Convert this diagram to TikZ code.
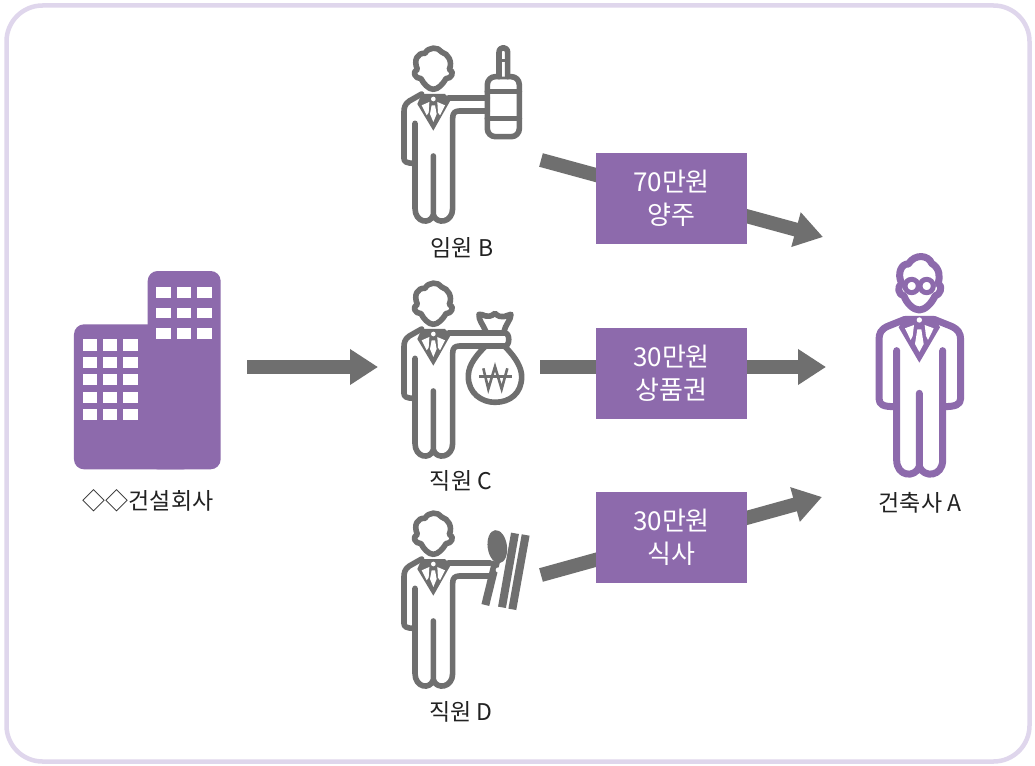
\documentclass[tikz,border=0pt]{standalone}
\usepackage{fontspec}
\setmainfont{Noto Sans CJK KR}
\usetikzlibrary{arrows.meta}
\definecolor{purp}{HTML}{8D6AAC}
\definecolor{gr}{HTML}{6F6F6F}
\definecolor{fr}{HTML}{DFD6EC}
\definecolor{tx}{HTML}{222222}
\tikzset{
  lab/.style={font=\fontsize{23}{26}\selectfont,text=tx,inner sep=0pt},
  box/.style={fill=purp,minimum width=151pt,minimum height=91pt,inner sep=0pt,align=center,text=white,font=\fontsize{26}{33}\selectfont},
  bigarrow/.style={draw=gr,line width=14pt,-{Triangle[length=28pt,width=34pt]},shorten >=0pt},
  figline/.style={line width=5.6pt,line cap=round,line join=round},
  win/.style={fill=white,draw=none},
}
\newcommand{\personfig}[1]{%
  \begin{scope}[#1,x=0.3333pt,y=-0.3333pt]
  % head
  \draw[figline,draw=gr] (160,178) .. controls (145,178) and (130,160) .. (123,146)
    .. controls (105,146) and (95,125) .. (112,118)
    .. controls (100,90) and (112,68) .. (135,70)
    .. controls (145,50) and (175,50) .. (185,66)
    .. controls (205,72) and (218,95) .. (208,118)
    .. controls (225,125) and (215,146) .. (198,146)
    .. controls (190,160) and (175,178) .. (160,178);
  % shoulder, left arm and legs
  \draw[figline,draw=gr] (125,192) -- (88,213) .. controls (74,222) and (72,235) .. (72,245)
    -- (72,385) .. controls (72,395) and (78,400) .. (105,400);
  \draw[figline,draw=gr] (105,280) -- (105,535) .. controls (105,578) and (150,585) .. (160,555)
    -- (160,378);
  \draw[figline,draw=gr] (160,555) .. controls (170,585) and (218,578) .. (218,535)
    -- (218,265) .. controls (218,248) and (225,243) .. (240,243);
  % collar, V, tie
  \fill[gr,line join=round] (125,192) -- (195,192) -- (212,210) -- (160,302) -- (112,222) -- cycle;
  \fill[white] (160,207) circle[radius=7];
  \fill[white] (125,226) -- (148,216) -- (146,248) -- (140,256) -- cycle;
  \fill[white] (195,226) -- (172,216) -- (174,248) -- (180,256) -- cycle;
  \fill[white] (155,226) -- (165,226) -- (170,252) -- (160,276) -- (150,252) -- cycle;
  \end{scope}}
\begin{document}
\begin{tikzpicture}[x=1pt,y=-1pt]
\useasboundingbox (0,0) rectangle (1035,765);
\fill[white] (0,0) rectangle (1035,765);
\node[draw=fr,line width=4.5pt,rounded corners=36pt,minimum width=1023pt,minimum height=756pt,inner sep=0pt] (frame) at (518,383.5) {};

% building
\begin{scope}[shift={(60,260)},x=0.3333pt,y=-0.3333pt]
\fill[purp,rounded corners=10pt] (42,193) rectangle (400,628);
\fill[purp,rounded corners=10pt] (263,33) rectangle (482,628);
\foreach \xa/\xb in {68/112,130/172,190/235}
  \foreach \ya/\yb in {238/272,290/324,343/375,397/428,448/480}
    \fill[win] (\xa,\ya) rectangle (\xb,\yb);
\foreach \xa/\xb in {289/332,350/393,412/456}
  \foreach \ya/\yb in {82/114,143/175,205/237}
    \fill[win] (\xa,\ya) rectangle (\xb,\yb);
\end{scope}
\node[lab] (company) at (148,501) {◇◇건설회사};

% person B with bottle
\personfig{shift={(380,30)}}
\begin{scope}[shift={(380,30)},x=0.3333pt,y=-0.3333pt]
\draw[figline,draw=gr] (240,243) -- (322,243);
\draw[figline,draw=gr,rounded corners=8pt] (322,140) rectangle (418,320);
\draw[figline,draw=gr,fill=white,line join=round] (357,140) -- (357,68) .. controls (357,48) and (383,48) .. (383,68) -- (383,140);
\draw[figline,draw=gr] (322,185) -- (418,185);
\draw[figline,draw=gr] (322,265) -- (418,265);
\draw[line width=3pt,draw=gr] (357,92) -- (383,92);
\draw[figline,draw=gr] (205,204) -- (322,204);
\end{scope}
\node[lab] (labB) at (462,248) {임원 B};

% person C with money bag
\personfig{shift={(380,265)}}
\begin{scope}[shift={(380,265)},x=0.3333pt,y=-0.3333pt]
\draw[figline,draw=gr,fill=white] (315,245) .. controls (275,285) and (265,310) .. (265,335)
  .. controls (265,385) and (305,412) .. (345,412)
  .. controls (390,412) and (425,385) .. (425,335)
  .. controls (425,310) and (410,280) .. (375,245);
\draw[figline,draw=gr,fill=white] (318,200) .. controls (310,180) and (295,165) .. (297,148)
  .. controls (310,145) and (320,165) .. (345,145)
  .. controls (365,165) and (380,150) .. (393,148)
  .. controls (393,165) and (375,180) .. (372,200);
\draw[figline,draw=gr] (205,204) -- (375,204) .. controls (390,204) and (390,243) .. (375,243) -- (240,243);
\draw[line width=2.6pt,draw=gr] (310,310) -- (325,372) -- (345,305) -- (365,372) -- (382,310);
\draw[line width=3pt,draw=gr] (298,335) -- (395,335);
\end{scope}
\node[lab] (labC) at (461,481) {직원 C};

% person D with spoon and chopsticks
\personfig{shift={(380,495)}}
\begin{scope}[shift={(380,495)},x=0.3333pt,y=-0.3333pt]
\draw[figline,draw=gr] (240,243) -- (330,243);
\draw[figline,draw=gr] (205,204) -- (330,204);
\draw[line width=8pt,draw=gr] (348,200) -- (316,330);
\fill[gr,rotate around={8:(352,155)}] (352,155) ellipse[x radius=29,y radius=50];
\fill[white] (355,225) circle[radius=8];
\draw[line width=8pt,draw=gr] (405,115) -- (366,337);
\draw[line width=8pt,draw=gr] (437,120) -- (397,343);
\end{scope}
\node[lab] (labD) at (461,712) {직원 D};

% architect A
\begin{scope}[shift={(860,240)},x=0.3333pt,y=-0.3333pt]
\tikzset{pl/.style={line width=7pt,line cap=round,line join=round,draw=purp}}
\draw[pl] (178,210) .. controls (160,210) and (140,190) .. (132,168)
  .. controls (115,165) and (110,140) .. (125,130)
  .. controls (110,100) and (125,70) .. (145,72)
  .. controls (165,40) and (205,45) .. (215,70)
  .. controls (240,85) and (240,110) .. (235,130)
  .. controls (250,140) and (240,165) .. (225,168)
  .. controls (215,190) and (195,210) .. (178,210);
\draw[line width=5pt,draw=purp,fill=white] (155,138) circle[radius=20];
\draw[line width=5pt,draw=purp,fill=white] (200,138) circle[radius=20];
\draw[pl] (135,238) -- (85,258) .. controls (62,268) and (57,280) .. (57,300)
  -- (57,475) .. controls (57,495) and (70,500) .. (105,500);
\draw[pl] (222,238) -- (272,258) .. controls (295,268) and (302,280) .. (302,300)
  -- (302,475) .. controls (302,495) and (285,500) .. (250,500);
\draw[pl] (110,332) -- (110,660) .. controls (110,710) and (165,715) .. (178,680) -- (178,460);
\draw[pl] (178,680) .. controls (192,715) and (248,710) .. (248,660) -- (248,332);
\fill[purp] (135,228) -- (222,228) -- (240,262) -- (178,368) -- (116,262) -- cycle;
\fill[white] (178,240) circle[radius=8];
\fill[white] (135,265) -- (162,255) -- (158,288) -- (152,300) -- cycle;
\fill[white] (221,265) -- (194,255) -- (198,288) -- (204,300) -- cycle;
\fill[white] (172,268) -- (184,268) -- (191,312) -- (178,336) -- (165,312) -- cycle;
\end{scope}
\node[lab] (labA) at (920,503) {건축사 A};

% connectors
\coordinate (s0) at (247,367);
\coordinate (e0) at (378,367);
\coordinate (s1) at (541,160);
\coordinate (e1) at (823,237);
\coordinate (s2) at (540,367);
\coordinate (e2) at (826,367);
\coordinate (s3) at (541,575);
\coordinate (e3) at (822,497);
\draw[bigarrow] (s0) -- (e0);
\draw[bigarrow] (s1) -- (e1);
\draw[bigarrow] (s2) -- (e2);
\draw[bigarrow] (s3) -- (e3);

\node[box] (b1) at (671.5,198.5) {70만원\\양주};
\node[box] (b2) at (671.5,373.5) {30만원\\상품권};
\node[box] (b3) at (671.5,537.5) {30만원\\식사};
\end{tikzpicture}
\end{document}
